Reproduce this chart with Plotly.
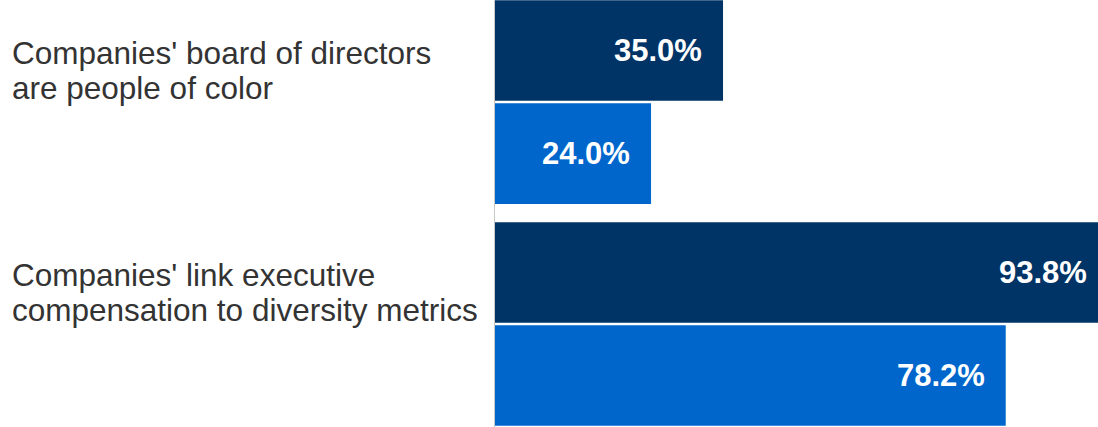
import plotly.graph_objects as go

# Survey items (each label is drawn on two lines) and series values (%)
categories = [
    "Companies' board of directors<br>are people of color",
    "Companies' link executive<br>compensation to diversity metrics",
]
series_names = ["Group A", "Group B"]
series_a = [35.0, 93.8]
series_b = [24.0, 78.2]

dark_navy = "#003366"
mid_blue = "#0066cc"
font_family = "Liberation Sans, Arial, sans-serif"
x_max = 92.3

fig = go.Figure()
for name, vals, color in [
    (series_names[0], series_a, dark_navy),
    (series_names[1], series_b, mid_blue),
]:
    fig.add_trace(
        go.Bar(
            y=list(range(len(categories))),
            x=vals,
            orientation="h",
            name=name,
            marker=dict(color=color, line=dict(width=0)),
            showlegend=False,
            hoverinfo="skip",
        )
    )

annotations = []

# Value labels, right-aligned inside each bar (paper x so that labels of
# bars running past the visible range are still drawn)
n_series = 2
group_width = 1 - 0.072
slot = group_width / n_series
for s, vals in enumerate([series_a, series_b]):
    for i, v in enumerate(vals):
        yc = i - group_width / 2 + slot * (s + 0.5)
        annotations.append(
            dict(
                x=v / x_max, y=yc, xref="paper", yref="y",
                text=f"{v:.1f}%",
                showarrow=False,
                xanchor="right", yanchor="middle",
                xshift=-19,
                font=dict(family=font_family, size=31, color="white", weight="bold"),
            )
        )

# Category labels on the left, one annotation per line for tight leading
plot_w = 1098 - 494
label_x = (10 - 494) / plot_w
for i, cat in enumerate(categories):
    lines = cat.split("<br>")
    for j, line in enumerate(lines):
        annotations.append(
            dict(
                x=label_x, y=i, xref="paper", yref="y",
                text=line,
                showarrow=False,
                xanchor="left", yanchor="middle",
                yshift=49 - 35 * j,
                font=dict(family=font_family, size=31.5, color="#333333"),
            )
        )

fig.update_layout(
    width=1098,
    height=427,
    margin=dict(l=494, r=0, t=0, b=0),
    paper_bgcolor="white",
    plot_bgcolor="white",
    barmode="group",
    bargap=0.072,
    bargroupgap=0.022,
    annotations=annotations,
    xaxis=dict(
        range=[0, x_max],
        showgrid=False,
        zeroline=False,
        showticklabels=False,
        ticks="",
        showline=False,
    ),
    yaxis=dict(
        range=[1.464, -0.4595],
        showgrid=False,
        zeroline=False,
        showticklabels=False,
        ticks="",
        showline=False,
    ),
    shapes=[
        dict(
            type="line", xref="x", yref="paper",
            x0=0, x1=0, y0=0, y1=1,
            line=dict(color="#c8c8c8", width=2),
            layer="above",
        )
    ],
)

fig.write_html("out.html")
